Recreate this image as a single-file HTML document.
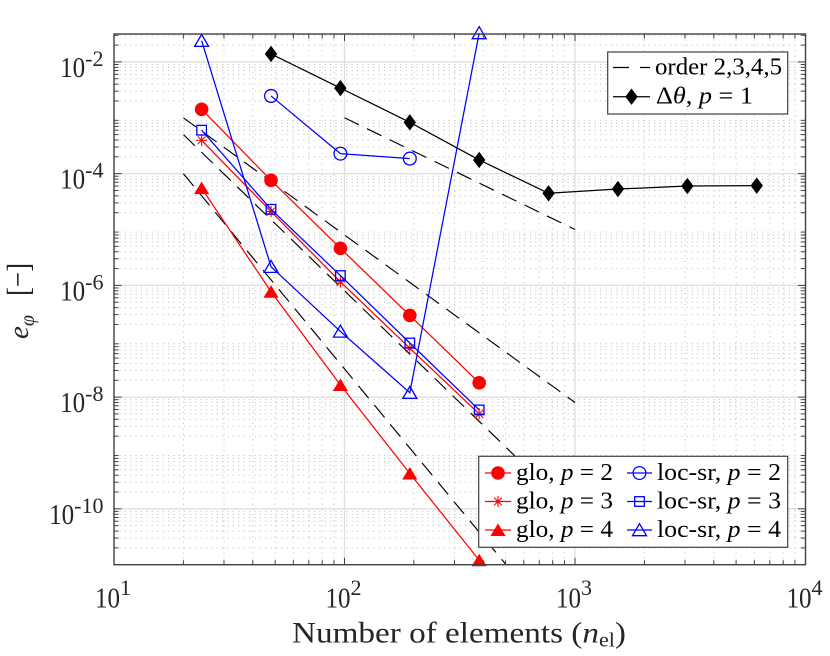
<!DOCTYPE html>
<html lang="en">
<head>
<meta charset="utf-8">
<title>Convergence chart</title>
<style>
html,body{margin:0;padding:0;background:#fff;width:830px;height:656px;overflow:hidden}
svg{display:block;font-family:"Liberation Serif",serif}
.tick{font-size:28px;fill:#262626}
.sup{font-size:22px;fill:#262626}
.leg{font-size:24px;fill:#000}
</style>
</head>
<body>
<svg id="chart" width="830" height="656" viewBox="0 0 830 656" xmlns="http://www.w3.org/2000/svg">
<defs><clipPath id="plot-clip"><rect x="114" y="34" width="691.5" height="530.7"/></clipPath></defs>
<rect width="830" height="656" fill="#fff"/>
<g id="grid"></g>
<g id="orders" clip-path="url(#plot-clip)"></g>
<g id="series"></g>
<g id="axes"></g>
<g id="xlabels"></g>
<g id="ylabels"></g>
<text x="292" y="642.5" font-size="30" fill="#262626" textLength="334" lengthAdjust="spacingAndGlyphs">Number of elements (<tspan font-style="italic">n</tspan><tspan font-size="20" dy="4">el</tspan><tspan dy="-4">)</tspan></text>
<text transform="translate(28,339) rotate(-90)" font-size="29" fill="#262626"><tspan font-style="italic">e</tspan><tspan font-size="20" font-style="italic" dy="6">φ</tspan></text>
<text transform="translate(28.5,296) rotate(-90)" font-size="32" fill="#262626" textLength="33" lengthAdjust="spacingAndGlyphs">[−]</text>
<g id="legend-top"></g>
<g id="legend-bottom"></g>
</svg>
<script>
var elementCounts = [24, 48, 96, 192, 384];
var thetaCounts = [48, 96, 192, 384, 768, 1536, 3072, 6144];
var thetaP1 = [1.39e-2, 3.4e-3, 8.3e-4, 1.76e-4, 4.45e-5, 5.3e-5, 6.0e-5, 6.1e-5];
var gloP2 = [1.42e-3, 7.6e-5, 4.6e-6, 2.9e-7, 1.8e-8];
var gloP3 = [3.96e-4, 2.1e-5, 1.16e-6, 7.5e-8, 5.0e-9];
var gloP4 = [5.5e-5, 7.7e-7, 1.65e-8, 4.3e-10, 1.2e-11];
var locCounts2 = [48, 96, 192];
var locP2 = [2.46e-3, 2.28e-4, 1.86e-4];
var locP3 = [6.0e-4, 2.3e-5, 1.5e-6, 9.3e-8, 5.9e-9];
var locP4 = [2.4e-2, 2.16e-6, 1.5e-7, 1.2e-8, 3.3e-2];
var order2X = [100, 1000];
var order2Y = [1e-3, 1e-5];
var order3X = [20, 1000];
var order3Y = [1e-3, 8e-9];
var order4X = [20, 1000];
var order4Y = [5e-4, 8e-11];
var order5X = [20, 1000];
var order5Y = [1e-4, 3.2e-13];
var xTickExps = [1, 2, 3, 4];
var yTickExps = [-2, -4, -6, -8, -10];
var minorMultipliers = [2, 3, 4, 5, 6, 7, 8, 9];

var NS = 'http://www.w3.org/2000/svg';
var L = 114, R = 805.5, T = 34, B = 564.7;
function xPos(v) { return L + (Math.log10(v) - 1) / 3 * (R - L); }
function yPos(v) { return T + (-1.5 - Math.log10(v)) / 9.5 * (B - T); }
function mk(tag, parent, attrs) {
  var el = document.createElementNS(NS, tag);
  for (var k in attrs) el.setAttribute(k, attrs[k]);
  parent.appendChild(el);
  return el;
}
var $ = function (id) { return document.getElementById(id); };

// grid
var grid = $('grid');
for (var d = 1; d <= 3; d++) {
  minorMultipliers.forEach(function (m) {
    var x = xPos(m * Math.pow(10, d));
    var el = mk('line', grid, {x1: x, x2: x, y1: T, y2: B, stroke: '#c4c4c4', 'stroke-width': 1, 'stroke-dasharray': '1.2 4.2'});
    
    
  });
}
for (var e = -11; e <= -2; e++) {
  minorMultipliers.forEach(function (m) {
    var v = m * Math.pow(10, e);
    if (v > Math.pow(10, -1.5)) return;
    var y = yPos(v);
    var el = mk('line', grid, {x1: L, x2: R, y1: y, y2: y, stroke: '#c4c4c4', 'stroke-width': 1, 'stroke-dasharray': '1.2 4.2'});
    
    
  });
}
xTickExps.slice(1, 3).forEach(function (p) {
  var x = xPos(Math.pow(10, p));
  var el = mk('line', grid, {x1: x, x2: x, y1: T, y2: B, stroke: '#dedede', 'stroke-width': 1.3});
  
  
});
yTickExps.forEach(function (p) {
  var y = yPos(Math.pow(10, p));
  var el = mk('line', grid, {x1: L, x2: R, y1: y, y2: y, stroke: '#dedede', 'stroke-width': 1.3});
  
  
});

// order reference lines
function drawOrder(xs, ys, name) {
  var el = mk('line', $('orders'), {x1: xPos(xs[0]), y1: yPos(ys[0]), x2: xPos(xs[1]), y2: yPos(ys[1]), stroke: '#000', 'stroke-width': 1.15, 'stroke-dasharray': '16 9'});
  
  
}
drawOrder(order2X, order2Y, 'order-2-line');
drawOrder(order3X, order3Y, 'order-3-line');
drawOrder(order4X, order4Y, 'order-4-line');
drawOrder(order5X, order5Y, 'order-5-line');

// markers
function marker(parent, type, x, y, color) {
  var g = mk('g', parent, {});
  
  
  var open = {fill: 'none', stroke: color, 'stroke-width': 1.3};
  var solid = {fill: color, stroke: 'none'};
  function poly(pts, st) {
    var a = {points: pts.map(function (p) { return (x + p[0]) + ',' + (y + p[1]); }).join(' ')};
    for (var k in st) a[k] = st[k];
    mk('polygon', g, a);
  }
  if (type === 'circleSolid') mk('circle', g, {cx: x, cy: y, r: 6.8, fill: color});
  if (type === 'circleOpen') mk('circle', g, {cx: x, cy: y, r: 6.4, fill: 'none', stroke: color, 'stroke-width': 1.3});
  if (type === 'square') mk('rect', g, {x: x - 4.8, y: y - 4.8, width: 9.6, height: 9.6, fill: 'none', stroke: color, 'stroke-width': 1.3});
  if (type === 'triSolid') poly([[0, -6.5], [7.6, 6], [-7.6, 6]], solid);
  if (type === 'triOpen') poly([[0, -6.3], [7, 5.7], [-7, 5.7]], open);
  if (type === 'diamond') poly([[0, -8.2], [6.2, 0], [0, 8.2], [-6.2, 0]], {fill: color, stroke: 'none'});
  if (type === 'star') {
    [[0, -5.6, 0, 5.6], [-5.4, 0, 5.4, 0], [-3.9, -3.9, 3.9, 3.9], [-3.9, 3.9, 3.9, -3.9]].forEach(function (c) {
      mk('line', g, {x1: x + c[0], y1: y + c[1], x2: x + c[2], y2: y + c[3], stroke: color, 'stroke-width': 1.1});
    });
  }
}
function drawSeries(xs, ys, type, color, name) {
  var g = mk('g', $('series'), {});
  
  
  mk('polyline', g, {points: xs.map(function (v, i) { return xPos(v) + ',' + yPos(ys[i]); }).join(' '), fill: 'none', stroke: color, 'stroke-width': 1.25});
  xs.forEach(function (v, i) { marker(g, type, xPos(v), yPos(ys[i]), color); });
}
var RED = '#ff0000', BLUE = '#0000ff';
drawSeries(thetaCounts, thetaP1, 'diamond', '#000', 'series-delta-theta-p1');
drawSeries(locCounts2, locP2, 'circleOpen', BLUE, 'series-loc-sr-p2');
drawSeries(elementCounts, gloP2, 'circleSolid', RED, 'series-glo-p2');
drawSeries(elementCounts, gloP3, 'star', RED, 'series-glo-p3');
drawSeries(elementCounts, gloP4, 'triSolid', RED, 'series-glo-p4');
drawSeries(elementCounts, locP3, 'square', BLUE, 'series-loc-sr-p3');
drawSeries(elementCounts, locP4, 'triOpen', BLUE, 'series-loc-sr-p4');

// axes box and ticks
var axes = $('axes');
var box = mk('rect', axes, {x: L, y: T, width: R - L, height: B - T, fill: 'none', stroke: '#404040', 'stroke-width': 1.4});


function tick(x1, y1, x2, y2, name) {
  var el = mk('line', axes, {x1: x1, y1: y1, x2: x2, y2: y2, stroke: '#404040', 'stroke-width': 1});
  
  
}
for (var dx = 1; dx <= 3; dx++) {
  minorMultipliers.forEach(function (m) {
    var x = xPos(m * Math.pow(10, dx));
    tick(x, B, x, B - 4.5, 'x-minor-tick');
    tick(x, T, x, T + 4.5, 'x-minor-tick-top');
  });
}
xTickExps.forEach(function (p) {
  var x = xPos(Math.pow(10, p));
  tick(x, B, x, B - 7, 'x-major-tick');
  tick(x, T, x, T + 7, 'x-major-tick-top');
  var g = mk('g', $('xlabels'), {});
  
  
  var t = mk('text', g, {x: x - 19, y: 607.5, 'class': 'tick', textLength: 25, lengthAdjust: 'spacingAndGlyphs'});
  t.textContent = '10';
  var s = mk('text', g, {x: x + 6, y: 595, 'class': 'sup'});
  s.textContent = String(p);
});
for (var ey = -11; ey <= -2; ey++) {
  minorMultipliers.forEach(function (m) {
    var v = m * Math.pow(10, ey);
    if (v > Math.pow(10, -1.5)) return;
    var y = yPos(v);
    tick(L, y, L + 4.5, y, 'y-minor-tick');
    tick(R, y, R - 4.5, y, 'y-minor-tick-right');
  });
}
yTickExps.forEach(function (p) {
  var y = yPos(Math.pow(10, p));
  tick(L, y, L + 7.5, y, 'y-major-tick');
  tick(R, y, R - 7.5, y, 'y-major-tick-right');
  var g = mk('g', $('ylabels'), {});
  
  
  var s = mk('text', g, {x: 103.5, y: y + 4, 'class': 'sup', 'text-anchor': 'end'});
  s.textContent = String(p);
  var w = s.getComputedTextLength();
  var t = mk('text', g, {x: 103.5 - w - 25, y: y + 15, 'class': 'tick', textLength: 25, lengthAdjust: 'spacingAndGlyphs'});
  t.textContent = '10';
});

// legends
function legendBox(parent, x, y, w, h) {
  var el = mk('rect', parent, {x: x, y: y, width: w, height: h, fill: '#fff', stroke: '#404040', 'stroke-width': 1.2});
  
  
}
function legendEntry(parent, x1, x2, cy, type, color, dashed, tx, width) {
  var g = mk('g', parent, {});
  
  
  var a = {x1: x1, x2: x2, y1: cy, y2: cy, stroke: color, 'stroke-width': 1.25};
  if (dashed) a['stroke-dasharray'] = '16 11';
  mk('line', g, a);
  if (type) marker(g, type, (x1 + x2) / 2, cy, color);
  return mk('text', g, {x: tx, y: cy + 7, 'class': 'leg', textLength: width, lengthAdjust: 'spacingAndGlyphs'});
}
function addText(t, str, italic) {
  var s = mk('tspan', t, italic ? {'font-style': 'italic'} : {});
  s.textContent = str;
}
var lt = $('legend-top');
legendBox(lt, 607.7, 52, 180, 62);
var t1 = legendEntry(lt, 613, 650, 67.5, null, '#000', true, 655, 127);
addText(t1, 'order 2,3,4,5', false);
var t2 = legendEntry(lt, 613, 650, 96.7, 'diamond', '#000', false, 656, 97);
addText(t2, 'Δ', false);
addText(t2, 'θ', true);
addText(t2, ', ', false);
addText(t2, 'p', true);
addText(t2, ' = 1', false);

var lb = $('legend-bottom');
legendBox(lb, 478.7, 456.3, 309, 91);
var rowsY = [473, 501.5, 530];
var pLabels = [2, 3, 4];
var redTypes = ['circleSolid', 'star', 'triSolid'];
var blueTypes = ['circleOpen', 'square', 'triOpen'];
rowsY.forEach(function (y, i) {
  var a = legendEntry(lb, 485, 511, y, redTypes[i], RED, false, 516, 97);
  addText(a, 'glo, ', false);
  addText(a, 'p', true);
  addText(a, ' = ' + pLabels[i], false);
  var b = legendEntry(lb, 627, 652, y, blueTypes[i], BLUE, false, 657, 124);
  addText(b, 'loc-sr, ', false);
  addText(b, 'p', true);
  addText(b, ' = ' + pLabels[i], false);
});
</script>
</body>
</html>
